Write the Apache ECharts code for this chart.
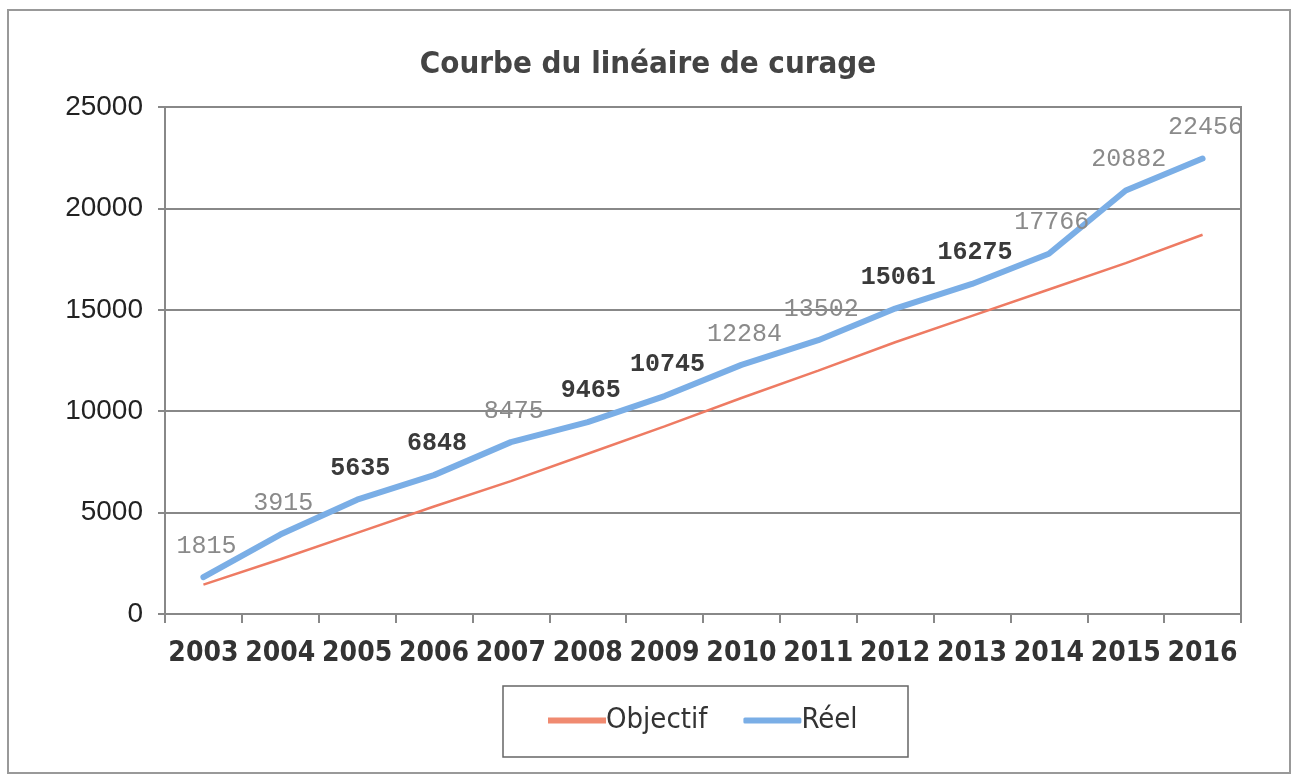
<!DOCTYPE html>
<html><head><meta charset="utf-8">
<script src="https://cdn.jsdelivr.net/npm/echarts@6/dist/echarts.min.js"></script>
<style>html,body{margin:0;padding:0;background:#fff}#c{width:1301px;height:780px}</style>
</head><body><div id="c"></div>
<script>
const categories = ['2003','2004','2005','2006','2007','2008','2009','2010','2011','2012','2013','2014','2015','2016'];
const objectif = [1450, 2700, 4000, 5300, 6550, 7900, 9250, 10650, 12000, 13400, 14700, 16000, 17300, 18700];
const reel = [1815, 3915, 5635, 6848, 8475, 9465, 10745, 12284, 13502, 15061, 16275, 17766, 20882, 22456];
const darkLabel = [false, false, true, true, false, true, true, false, false, true, true, false, false, false];

const condensed = 'DejaVu Sans Condensed, Liberation Sans Narrow, Arial Narrow, sans-serif';
const chart = echarts.init(document.getElementById('c'));
chart.setOption({
  animation: false,
  backgroundColor: '#fff',
  title: {
    text: 'Courbe du linéaire de curage',
    left: 643, top: 44, textAlign: 'center',
    textStyle: {fontFamily: condensed, fontWeight: 'bold', fontSize: 31, color: '#444'}
  },
  graphic: [{
    type: 'rect', shape: {x: 8, y: 10, width: 1282, height: 763},
    style: {fill: 'none', stroke: '#999', lineWidth: 2}, silent: true
  }, {
    type: 'rect', shape: {x: 503, y: 686, width: 405, height: 71},
    style: {fill: 'none', stroke: '#666', lineWidth: 1.5}, silent: true
  }],
  legend: {
    left: 548, top: 706,
    padding: 0,
    itemWidth: 58, itemHeight: 6, itemGap: 36,
    textStyle: {fontFamily: condensed, fontSize: 29, color: '#333', padding: [0,0,0,-5]},
    data: [{name: 'Objectif', icon: 'rect'}, {name: 'Réel', icon: 'roundRect'}]
  },
  grid: {left: 165, right: 60, top: 107, bottom: 166, show: true, borderColor: '#888', borderWidth: 2},
  xAxis: {
    type: 'category', data: categories, boundaryGap: true,
    axisLine: {lineStyle: {color: '#888', width: 2}},
    axisTick: {show: true, length: 9, interval: 0, lineStyle: {color: '#888', width: 2}},
    axisLabel: {interval: 0, margin: 26, fontFamily: condensed, fontWeight: 'bold', fontSize: 28, color: '#333'}
  },
  yAxis: {
    type: 'value', min: 0, max: 25000, interval: 5000,
    axisLine: {show: true, lineStyle: {color: '#888', width: 2}},
    axisTick: {show: true, length: 7, lineStyle: {color: '#888', width: 2}},
    splitLine: {lineStyle: {color: '#888', width: 2}},
    axisLabel: {margin: 22, formatter: v => String(v), fontFamily: 'Liberation Sans, Arial', fontSize: 28, color: '#222'}
  },
  series: [{
    name: 'Objectif', type: 'line', data: objectif, symbol: 'none',
    lineStyle: {color: '#ee7b63', width: 2.5}, itemStyle: {color: '#f08a70'}
  }, {
    name: 'Réel', type: 'line', symbol: 'circle', symbolSize: 1, showSymbol: true,
    data: reel.map((v, i) => ({
      value: v,
      label: darkLabel[i]
        ? {show: true, color: '#3a3a3a', fontWeight: 'bold'}
        : {show: true, color: '#8a8a8a', fontWeight: 'normal'}
    })),
    lineStyle: {color: '#7aaee6', width: 6, cap: 'round'}, itemStyle: {color: '#7aaee6'},
    label: {show: true, position: 'top', distance: 18, offset: [3, 0], fontFamily: 'Liberation Mono, Courier New, monospace', fontSize: 25}
  }]
});
</script></body></html>
